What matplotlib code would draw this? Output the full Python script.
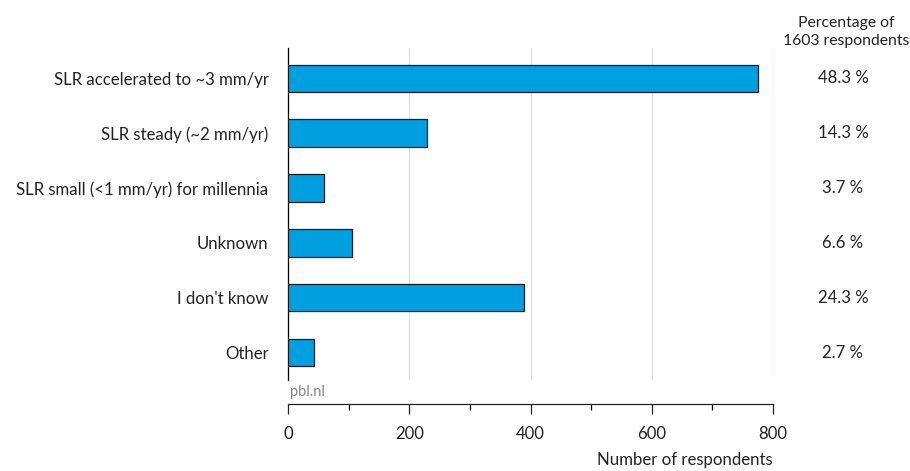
import matplotlib

matplotlib.use("Agg")
import matplotlib.pyplot as plt
from matplotlib.ticker import MultipleLocator

plt.rcParams["font.family"] = ["Lato", "DejaVu Sans"]

categories = [
    "SLR accelerated to ~3 mm/yr",
    "SLR steady (~2 mm/yr)",
    "SLR small (<1 mm/yr) for millennia",
    "Unknown",
    "I don't know",
    "Other",
]
respondents = [775, 229, 59, 106, 390, 43]
percent_labels = ["48.3 %", "14.3 %", "3.7 %", "6.6 %", "24.3 %", "2.7 %"]
total = 1603

fig = plt.figure(figsize=(9.1, 4.71), dpi=100)
ax = fig.add_axes([0.3165, 0.1932, 0.533, 0.7045])

pos = range(len(categories))
ax.barh(pos, respondents, height=0.5, color="#00a0e0", edgecolor="#1a1a1a", linewidth=0.9, zorder=3)

ax.set_ylim(len(categories) - 0.5, -0.55)
ax.set_xlim(0, 800)
ax.set_yticks(list(pos))
ax.set_yticklabels(categories, fontsize=12.1, color="#222222")
ax.tick_params(axis="y", length=0, pad=14)

ax.xaxis.set_major_locator(MultipleLocator(200))
ax.xaxis.set_minor_locator(MultipleLocator(100))
ax.tick_params(axis="x", which="major", length=7, width=0.9, pad=9, labelsize=12.1, colors="#222222")
ax.tick_params(axis="x", which="minor", length=4, width=0.9)
ax.grid(axis="x", color="#e3e3e3", linewidth=1, zorder=0)

for side in ["top", "right"]:
    ax.spines[side].set_visible(False)
ax.spines["bottom"].set_position(("outward", 17))
ax.spines["left"].set_linewidth(0.9)
ax.spines["bottom"].set_linewidth(0.9)
ax.spines["bottom"].set_color("#222222")

ax.set_xlabel("Number of respondents", loc="right", fontsize=12.1, color="#222222", labelpad=7)

ax.text(0.004, -0.015, "pbl.nl", transform=ax.transAxes, ha="left", va="top", fontsize=10.5, color="#888888")

for i, lab in enumerate(percent_labels):
    ax.text(1.144, i, lab, transform=ax.get_yaxis_transform(), ha="center", va="center",
            fontsize=12.1, color="#222222")
ax.text(1.15, 1.0, f"Percentage of\n{total} respondents", transform=ax.transAxes,
        ha="center", va="bottom", fontsize=11.3, color="#222222", linespacing=1.4)

fig.savefig("out.png", dpi=100)
